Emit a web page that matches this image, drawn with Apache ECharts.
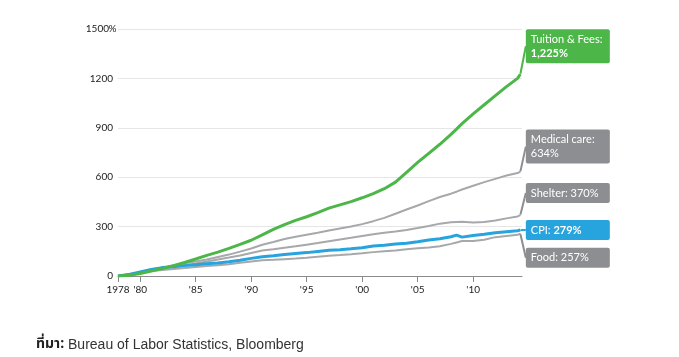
<!DOCTYPE html>
<html>
<head>
<meta charset="utf-8">
<script src="https://cdn.jsdelivr.net/npm/echarts@6/dist/echarts.min.js"></script>
<style>
html,body{margin:0;padding:0;background:#fff;}
#c{width:679px;height:357px;}
</style>
</head>
<body>
<div id="c"></div>
<script>
const years = [1978,1979,1980,1981,1982,1983,1984,1985,1986,1987,1988,1989,1990,1991,1992,1993,1994,1995,1996,1997,1998,1999,2000,2001,2002,2003,2004,2005,2006,2007,2008,2008.5,2009,2010,2011,2012,2013,2014,2014.25];
const tuition = [0,5,15,30,45,62,82,103,125,145,168,192,217,250,283,312,338,360,385,412,432,452,475,500,530,570,630,690,745,800,860,892,925,985,1040,1095,1150,1200,1225];
const medical = [0,9,20,34,50,65,77,88,100,115,130,148,167,190,207,225,238,251,263,276,288,300,315,333,353,378,404,428,455,480,500,512,525,548,570,590,610,625,634];
const shelter = [0,10,25,40,52,58,66,76,88,100,112,125,140,155,163,172,180,190,200,211,222,232,243,253,262,270,280,291,304,318,326,328,330,325,328,337,350,362,370];
const cpi = [0,9,24,39,51,56,63,69,75,79,86,96,107,117,123,130,136,142,149,156,160,165,172,182,187,194,199,208,219,226,238,248,236,246,253,263,269,275,279];
const food = [0,10,20,30,37,42,48,55,60,66,72,80,88,95,98,102,106,111,117,123,127,132,138,145,151,155,162,168,173,181,195,203,212,212,220,236,243,250,257];
const xTicks = [1978,1980,1985,1990,1995,2000,2005,2010];
const yTicks = [0,300,600,900,1200,1500];
const seriesNames = ['Tuition & Fees:','Medical care:','Shelter:','CPI:','Food:'];

const GREEN = '#4cb748', BLUE = '#27a3dd', GRAY = '#a6a8ab', BOXGRAY = '#8c8e91';
const FONT = 'Lato, "Open Sans", sans-serif';

function pts(arr){ return years.map((y,i)=>[y, arr[i]]); }
function last(arr){ return arr[arr.length-1]; }
function pct(v){ return v.toLocaleString('en-US') + '%'; }
const lastYear = last(years);

const labelDefs = [
  {v: last(tuition), color: GREEN, dy: -28, fmt: '{n|' + seriesNames[0] + '}\n{b|' + pct(last(tuition)) + '}'},
  {v: last(medical), color: BOXGRAY, dy: -25, fmt: '{n|' + seriesNames[1] + '}\n{n|' + pct(last(medical)) + '}'},
  {v: last(shelter), color: BOXGRAY, dy: -22, fmt: '{n|' + seriesNames[2] + ' ' + pct(last(shelter)) + '}'},
  {v: last(cpi), color: BLUE, dy: 0, fmt: '{n|' + seriesNames[3] + ' }{b|' + pct(last(cpi)) + '}'},
  {v: last(food), color: BOXGRAY, dy: 24, fmt: '{n|' + seriesNames[4] + ' ' + pct(last(food)) + '}'}
];

const chart = echarts.init(document.getElementById('c'), null, {renderer:'canvas'});
const option = {
  animation: false,
  backgroundColor: '#fff',
  textStyle: {fontFamily: FONT},
  grid: {left: 118, right: 157, top: 29, bottom: 81, outerBoundsMode: 'none', containLabel: false},
  title: {
    left: 31, top: 333,
    text: '{b|ที่มา:} Bureau of Labor Statistics, Bloomberg',
    textStyle: {
      fontFamily: '"Liberation Sans", Arial, sans-serif', fontSize: 14, fontWeight: 'normal', color: '#333',
      rich: {b: {fontFamily: '"Noto Sans Thai", "DejaVu Sans", sans-serif', fontSize: 14, fontWeight: 'bold', color: '#222'}}
    }
  },
  xAxis: {
    type: 'value', min: 1978, max: 2014.4,
    axisLine: {show: true, onZero: false, lineStyle: {color: '#8a8a8a', width: 1}},
    axisTick: {show: true, customValues: xTicks, length: 6, lineStyle: {color: '#8a8a8a'}},
    axisLabel: {
      customValues: xTicks, color: '#222', fontSize: 10, fontFamily: FONT, margin: 9,
      formatter: v => v === 1978 ? '1978' : "'" + String(v).slice(2)
    },
    splitLine: {show: false}
  },
  yAxis: {
    type: 'value', min: 0, max: 1500, interval: 300,
    axisLine: {show: false}, axisTick: {show: false},
    axisLabel: {
      color: '#222', fontSize: 10, fontFamily: FONT, margin: 5,
      formatter: v => v === 1500 ? '1500{p|%}' : String(v),
      rich: {p: {width: 1, align: 'left', padding: [0, 0, 0, 3], fontSize: 10, color: '#222'}}
    },
    splitLine: {show: true, lineStyle: {color: '#e6e6e6', width: 1}}
  },
  series: [
    {name: 'Food', type: 'line', data: pts(food), showSymbol: false, lineStyle: {color: GRAY, width: 2}, z: 2},
    {name: 'Shelter', type: 'line', data: pts(shelter), showSymbol: false, lineStyle: {color: GRAY, width: 2}, z: 2},
    {name: 'Medical care', type: 'line', data: pts(medical), showSymbol: false, lineStyle: {color: GRAY, width: 2}, z: 2},
    {name: 'CPI', type: 'line', data: pts(cpi), showSymbol: false, lineStyle: {color: BLUE, width: 3}, z: 3},
    {name: 'Tuition & Fees', type: 'line', data: pts(tuition), showSymbol: false, lineStyle: {color: GREEN, width: 3}, z: 4},
    {
      name: 'labels', type: 'scatter', z: 5, symbolSize: 1, silent: true, clip: false,
      data: labelDefs.map(d => ({
        value: [lastYear, d.v],
        itemStyle: {color: d.color},
        label: {
          show: true, position: 'right', distance: 5, opacity: 1,
          backgroundColor: d.color, color: '#fff', padding: [3, 5, 3, 5], borderRadius: 2,
          width: 74, align: 'left', overflow: 'none',
          formatter: d.fmt,
          rich: {
            n: {color: '#fff', fontSize: 11, fontFamily: FONT, lineHeight: 14},
            b: {color: '#fff', fontSize: 11, fontFamily: FONT, fontWeight: 'bold', lineHeight: 14}
          }
        },
        labelLine: {show: true, lineStyle: {color: d.color, width: 2}}
      })),
      labelLayout: function (p) { return {dy: labelDefs[p.dataIndex].dy}; },
      labelLine: {show: true, smooth: false}
    }
  ]
};
chart.setOption(option);
</script>
</body>
</html>
